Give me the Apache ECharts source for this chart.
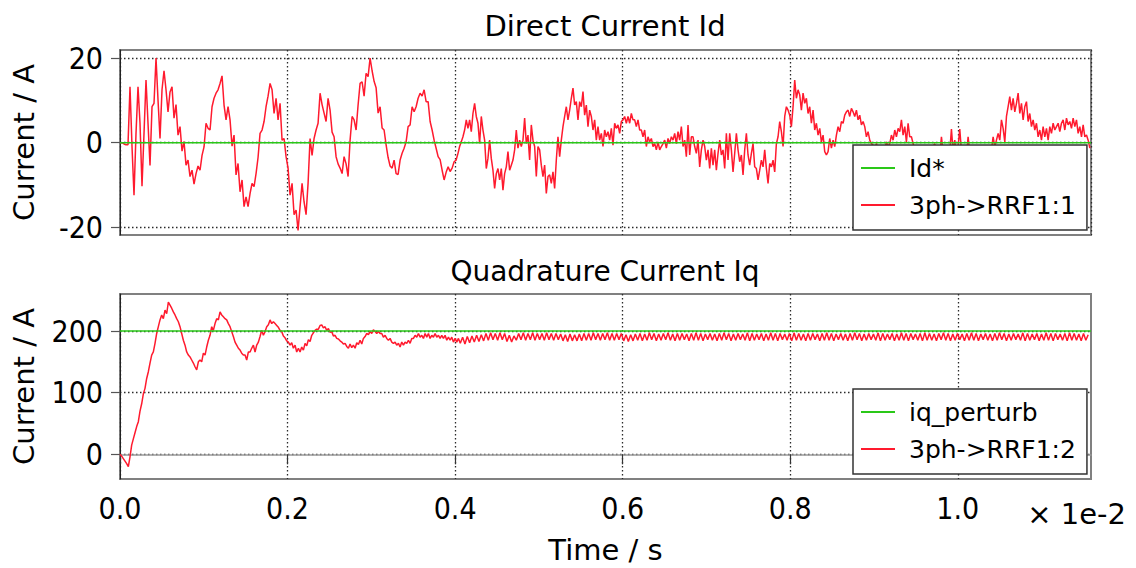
<!DOCTYPE html>
<html><head><meta charset="utf-8">
<script src="https://cdn.jsdelivr.net/npm/echarts@6/dist/echarts.min.js"></script>
<style>html,body{margin:0;padding:0;background:#fff}#c{width:1136px;height:568px}</style>
</head><body><div id="c"></div>
<script>
// ---- tick labels ----
const timeTicks = [0, 0.2, 0.4, 0.6, 0.8, 1.0];
const idTicks = [-20, 0, 20];
const iqTicks = [0, 100, 200];
const T_MAX = 1.159; // x 1e-2 s

// ---- reference values ----
const idRefValue = 0;
const iqRefValue = 200;

// ---- Id measured (3ph->RRF1:1), two sampled segments ----
const idA_t0 = 0, idA_dt = 0.0023881;
const idA = [0,0,-0.3,-0.5,-0.5,13.2,-0.9,-12.4,2.2,13.2,
4.6,-10.3,2.2,14.8,4.6,-5.4,8.5,9.3,20,10.1,
1,12.5,17,12.5,7.3,12,13.2,5.8,9,1.8,
3.8,-2,0.3,-5.3,-4.1,-8,-6.5,-9.8,-7.3,-5.5,
-6.5,-3,-1,4.6,3.4,3,8.5,10.5,11.7,12.5,
14,15.8,8.9,5.4,8.5,5.4,-0.8,1.8,-7.6,-4.9,
-11.6,-8.8,-15.1,-12.8,-15.1,-12,-9.6,-10.4,-7.3,-3.5,
2.2,3,5,8.5,11,14,12.5,6.9,10.5,5.4,
9.3,0.6,1,-3.3,-6,-12.4,-9.6,-17,-15.9,-20.7,
-15.1,-9.6,-14,-17,-9.6,1,-3,1,3,4.6,
11.7,9,7,5,10.5,7.7,2.5,1.4,-3.3,-5,
-6,-7.3,-3.3,-5,-8,0.6,6.2,5.4,3,8.9,
14,14.4,11,16.4,15.6,20,17,14.5,13,7,
8.5,3.5,3,-0.5,-3.5,-5.5,-6,-4.1,-7.3,-7.5,
-4.1,-2.5,-1.3,0.2,3.8,4.2,8.5,7.3,8.5,10.5,
11.7,11,12.5,9.7,9.7,5,3,0.6,-1.3,-3.3,
-4,-6.5,-8.8,-7,-5.7,-6.8,-6,-4.5,-4.1,-2.4];
const idB_t0 = 0.40537, idB_dt = 0.0019900;
const idB = [-0.9,0.2,1.4,3.0,5.4,3.4,5.4,2.6,6.9,9.3,
6.2,4.6,-0.2,6.2,3.0,0.6,-6.1,-3.7,0.6,-3.7,
-6.5,-10.8,-7.3,-6.1,-8.8,-6.1,-11.2,-7.3,-5.7,-2.1,
-6.5,-5.3,-4.1,-1.7,3.0,-1.3,0.6,-0.9,0.6,5.8,
-0.2,1.8,-4.1,4.2,0.6,-0.9,-8.0,-0.9,-1.7,-5.3,
-8.0,-5.3,-12.0,-8.0,-7.6,-9.6,-6.9,-10.8,-4.1,1.4,
-3.3,0.6,3.8,6.2,8.5,5.4,7.7,10.5,12.9,8.9,
9.7,5.4,9.7,8.5,12.1,6.5,8.9,3.8,7.7,6.2,
3.0,5.4,0.6,3.8,0.6,2.2,-0.9,3.0,1.4,2.6,
0.6,3.4,-0.6,4.6,3.4,4.2,2.2,5.0,5.4,6.2,
4.6,6.2,4.6,6.9,5.4,5.4,3.8,5.4,3.0,3.0,
1.4,3.0,-0.9,1.4,0.2,1.0,-0.9,-0.2,-1.7,0.2,
-1.7,-0.9,-0.2,0.6,-1.3,1.0,-0.2,1.4,0.6,2.2,
-0.2,2.6,0.6,3.8,-0.9,0.6,-3.3,4.2,-2.9,1.4,
1.4,-0.9,-2.5,0.6,-5.7,-1.7,0.6,-0.9,-4.1,-1.7,
-6.1,-1.3,-5.3,-1.7,-6.5,-2.5,0.6,-2.9,-1.7,-6.1,
2.2,-4.1,2.2,-1.7,-6.9,-2.5,2.2,-1.7,-4.5,-2.9,
-7.6,-1.7,2.2,-2.9,-5.3,-2.5,-0.2,-5.7,-6.1,-8.8,
-6.5,-4.1,-5.7,-1.7,-6.1,-9.6,-4.9,-5.7,-4.1,-6.9,
-0.2,1.4,5.0,2.6,-0.9,6.2,8.5,7.7,6.5,3.8,
8.5,14.8,10.5,12.5,11.3,
7.7,11.7,9.3,10.5,6.9,8.5,4.6,7.7,3.0,4.6,
1.8,3.4,0.2,1.8,-2.1,-2.9,-2.1,1.0,-1.3,0.6,
-0.9,1.8,3.8,2.6,5.0,4.6,6.5,7.3,7.7,6.2,
8.1,7.3,6.2,7.7,5.4,6.5,4.2,5.0,3.8,1.4,
2.6,0.6,-0.2,-0.6,-1.7,-0.2,-1.7,-0.6,-2.5,-0.9,
-1.7,0.2,-0.9,-0.2,1.8,0.6,3.0,1.4,3.4,2.6,
5.4,1.8,3.8,0.2,4.6,1.4,1.4,-0.2,-1.7,-0.9,
-2.5,-1.3,-2.9,-1.3,-3.3,-1.7,-2.9,-1.3,-2.5,-0.9,
-0.2,-2.5,-1.7,-2.9,1.4,-2.1,-2.9,-1.7,-3.3,-2.1,
3.2,-2.1,0.6,-2.5,-0.9,3.2,-2.1,-3.3,-1.7,-2.9,
1.4,-2.5,-3.3,-1.7,-2.9,-1.3,-3.3,-1.7,-2.9,-1.3,
-2.5,-0.9,-2.1,-0.6,-1.7,1.4,-0.9,0.6,2.2,0.6,
5.4,3.4,0.2,6.2,8.5,10.9,7.7,10.5,7.3,9.3,
11.7,6.9,9.3,5.4,8.5,9.7,5.0,6.9,3.8,5.4,
3.0,4.6,1.4,3.0,0.6,3.8,1.4,3.4,0.6,3.8,
2.2,4.6,3.0,3.8,4.6,2.6,4.6,5.4,3.0,5.8,
4.2,5.0,3.4,5.8,3.8,5.4,2.2,3.8,1.4,4.2,
1.4,1.8,0.6,-1.3];

// ---- Iq measured (3ph->RRF1:2), two sampled segments ----
const iqA_t0 = 0, iqA_dt = 0.0019900;
const iqA = [0,-3,-7,-11,-15,-20,-4,15,25,35,
45,53,70,82,98,107,123,134,148,161,
166,180,196,207,218,226,220,234,228,247,
242,237,231,226,220,215,207,196,185,177,
166,161,158,153,148,142,137,150,153,150,
164,161,174,185,193,207,201,212,220,218,
231,226,223,220,218,212,207,199,191,182,
177,172,169,164,161,161,153,166,166,172,
177,166,177,182,191,201,193,199,207,210,
218,212,215,212,209,206,201,199,192,189,
184,182,177,181,172,177,166,172,166,174,
169,180,176,186,183,193,197,201,203,203,
209,210,205,207,201,204,198,199,192,193,
188,187,184,182,179,180,175,172,179,173,
177,172,181,178,185,179,188,191,196,194,
199,196,202,199,196,199,196,196,190,193,
188,185,188,182,180,182,177,180,174,182,
177,182,180,185,180,188,188,193,190,196,
190,193,188,196,190,196,188,193,190,196,
190,193,188,193,188,193,185,190,185,190,
182,188,182,188];
const iqB_t0 = 0.40617, iqB_dt = 0.0027861;
const iqB = [180,190,179,191,181,192,182,193,183,194,
184,196,185,197,186,196,185,197,186,196,
183,193,182,192,
185,196,186,197,185,196,186,197,185,196,186,196,185,197,186,196,185,196,186,
195,184,194,183,195,184,194,184,195,184,
196,185,196,185,197,186,196,185,196,186,197,185,196,185,196,186,196,
184,194,183,194,184,195,
185,196,184,195,185,197,186,196,184,195,
185,196,186,197,185,195,184,196,185,196,
186,195,184,196,185,197,185,196,184,195,
186,196,185,195,184,196,185,197,186,196,
184,195,185,196,186,195,185,197,184,196,
185,195,186,196,184,195,185,197,185,196,
184,196,186,195,185,196,184,197,185,196,
185,195,184,196,185,196,186,195,184,196,
185,197,185,196,184,195,186,196,185,195,
184,196,185,197,186,196,184,195,185,196,
186,195,185,197,184,196,185,195,186,196,
184,195,185,197,185,196,184,196,186,195,
185,196,184,197,185,196,185,195,184,196,
186,197,185,196,184,195,185,196,186,195,
184,196,185,197,185,196,184,195,186,196,
185,195,184,196,185,197,186,196,184,195,
185,196,186,195,185,197,184,196,185,195,
186,196,184,195,185,197,185,196,184,196,
186,195,185,196,184,197,185,196,185,195,
184,196,185,194];

function seg(t0, dt, vals) { return vals.map((v, i) => [t0 + i * dt, v]); }
const idMeas = seg(idA_t0, idA_dt, idA).concat(seg(idB_t0, idB_dt, idB));
const iqMeas = seg(iqA_t0, iqA_dt, iqA).concat(seg(iqB_t0, iqB_dt, iqB));

const RED = '#ff1a2e', GREEN = '#2ac818';
const FONT = 'DejaVu Sans', FONT_C = 'DejaVu Sans Condensed';
const gridLine = { show: true, lineStyle: { color: '#2a2a2a', type: [1.5, 2.5], width: 1.3 } };
const onTicks = (ticks) => (v) => ticks.some(t => Math.abs(t - v) < 1e-6);

function yAxisCfg(idx, min, max, split, ticks) {
  return {
    type: 'value', gridIndex: idx, min: min, max: max, splitNumber: split,
    axisLine: { show: true, lineStyle: { color: '#222', width: 1 } },
    axisTick: { show: true, length: 9, lineStyle: { color: '#555', width: 1.2 }, customValues: ticks },
    axisLabel: { customValues: ticks, margin: 17, fontFamily: FONT_C, fontSize: 30, color: '#000',
      formatter: v => onTicks(ticks)(v) ? String(v) : '' },
    splitLine: gridLine,
    name: 'Current / A', nameLocation: 'middle', nameGap: 82, nameRotate: 90,
    nameTextStyle: { fontFamily: FONT, fontSize: 29, color: '#000' }
  };
}

const legendBase = {
  orient: 'vertical', left: 853, backgroundColor: '#fff', borderColor: '#333', borderWidth: 1.5,
  padding: [8, 11, 10, 8], itemGap: 7, itemWidth: 34, itemHeight: 2, icon: 'rect', selectedMode: false,
  textStyle: { fontFamily: FONT, fontSize: 25, color: '#000', lineHeight: 30, padding: [0, 0, 0, 9] }
};

const chart = echarts.init(document.getElementById('c'), null, { renderer: 'svg' });
chart.setOption({
  animation: false,
  backgroundColor: '#fff',
  grid: [
    { left: 120, right: 45, top: 50, height: 185, show: true, borderColor: '#808080', borderWidth: 2 },
    { left: 120, right: 45, top: 294, height: 185, show: true, borderColor: '#808080', borderWidth: 2 }
  ],
  xAxis: [
    { type: 'value', gridIndex: 0, min: 0, max: T_MAX, interval: 0.2,
      axisLine: { show: false }, axisTick: { show: false }, axisLabel: { show: false }, splitLine: gridLine },
    { type: 'value', gridIndex: 1, min: 0, max: T_MAX, interval: 0.2,
      axisLine: { show: true, lineStyle: { color: '#999', width: 1.5 } },
      axisTick: { show: true, length: 10, lineStyle: { color: '#333', width: 1.2 }, customValues: timeTicks },
      axisLabel: { customValues: timeTicks, margin: 14, fontFamily: FONT_C, fontSize: 30, color: '#000',
        formatter: v => onTicks(timeTicks)(v) ? v.toFixed(1) : '' },
      splitLine: gridLine,
      name: 'Time / s', nameLocation: 'middle', nameGap: 56,
      nameTextStyle: { fontFamily: FONT, fontSize: 29, color: '#000' } }
  ],
  yAxis: [
    yAxisCfg(0, -21.8, 21.9, 2, idTicks),
    yAxisCfg(1, -40, 260, 3, iqTicks)
  ],
  legend: [
    Object.assign({}, legendBase, { top: 145, data: ['Id*', '3ph->RRF1:1'] }),
    Object.assign({}, legendBase, { top: 389, data: ['iq_perturb', '3ph->RRF1:2'] })
  ],
  graphic: [
    { type: 'text', x: 605, y: 26, style: { text: 'Direct Current Id', fontFamily: FONT, fontSize: 29, fill: '#000', align: 'center', verticalAlign: 'middle' } },
    { type: 'text', x: 605, y: 271, style: { text: 'Quadrature Current Iq', fontFamily: FONT, fontSize: 28, fill: '#000', align: 'center', verticalAlign: 'middle' } },
    { type: 'text', x: 1126, y: 514, style: { text: '\u00d7 1e-2', fontFamily: FONT, fontSize: 29, fill: '#000', align: 'right', verticalAlign: 'middle' } }
  ],
  series: [
    { name: '3ph->RRF1:1', type: 'line', xAxisIndex: 0, yAxisIndex: 0, data: idMeas, symbol: 'none', showSymbol: false,
      lineStyle: { color: RED, width: 1.5 }, itemStyle: { color: RED }, z: 2, silent: true },
    { name: 'Id*', type: 'line', xAxisIndex: 0, yAxisIndex: 0, data: [[0, idRefValue], [T_MAX, idRefValue]], symbol: 'none',
      lineStyle: { color: GREEN, width: 1.6 }, itemStyle: { color: GREEN }, z: 3, silent: true },
    { name: '3ph->RRF1:2', type: 'line', xAxisIndex: 1, yAxisIndex: 1, data: iqMeas, symbol: 'none', showSymbol: false,
      lineStyle: { color: RED, width: 1.5 }, itemStyle: { color: RED }, z: 2, silent: true },
    { name: 'iq_perturb', type: 'line', xAxisIndex: 1, yAxisIndex: 1, data: [[0, iqRefValue], [T_MAX, iqRefValue]], symbol: 'none',
      lineStyle: { color: GREEN, width: 1.6 }, itemStyle: { color: GREEN }, z: 3, silent: true }
  ]
});
</script></body></html>
